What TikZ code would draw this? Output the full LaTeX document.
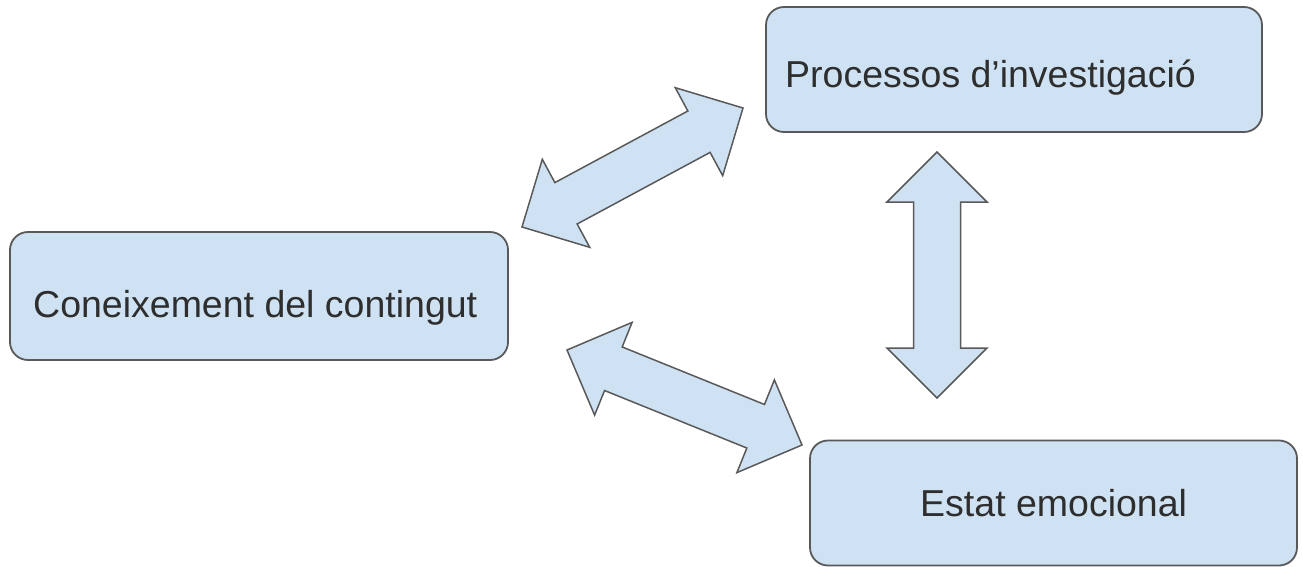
\documentclass[tikz,border=0pt]{standalone}
\usepackage{fontspec}
\setmainfont{Liberation Sans}
\usetikzlibrary{calc}

\definecolor{boxfill}{HTML}{CFE2F3}
\definecolor{boxline}{HTML}{595959}
\definecolor{txtcol}{HTML}{2E2E2E}

\tikzset{
  box/.style={draw=boxline, fill=boxfill, line width=1.8pt, rounded corners=18pt, inner sep=0pt},
  lbl/.style={text=txtcol, font=\fontsize{37.5}{45}\selectfont, inner sep=0pt, anchor=base west},
  blockarrow/.style={draw=boxline, fill=boxfill, line width=1.5pt, line join=miter}
}

% block arrow with a head at both ends
\newcommand{\dblarrow}[2]{%
  \coordinate (ha) at ($(#1)!50pt!(#2)$);
  \coordinate (hb) at ($(#2)!50pt!(#1)$);
  \draw[blockarrow] (#1)
    -- ($(ha)!50pt!90:(#2)$) -- ($(ha)!23.5pt!90:(#2)$)
    -- ($(hb)!23.5pt!-90:(#1)$) -- ($(hb)!50pt!-90:(#1)$)
    -- (#2)
    -- ($(hb)!50pt!90:(#1)$) -- ($(hb)!23.5pt!90:(#1)$)
    -- ($(ha)!23.5pt!-90:(#2)$) -- ($(ha)!50pt!-90:(#2)$)
    -- cycle;}

\begin{document}
\begin{tikzpicture}[x=1pt, y=-1pt]
    \useasboundingbox (0,0) rectangle (1303,567);

    % Boxes
    \node[box, minimum width=498pt, minimum height=128pt] (cont) at (259,296) {};
    \node[box, minimum width=496pt, minimum height=125pt] (proc) at (1014,69.5) {};
    \node[box, minimum width=487pt, minimum height=125pt] (emo) at (1053.5,503) {};

    % Labels
    \node[lbl] (cont-t) at (33,317) {Coneixement del contingut};
    \node[lbl] (proc-t) at (785,88) {Processos d’investigació};
    \node[lbl] (emo-t) at (920,516) {Estat emocional};

    % Arrows
    \coordinate (a1) at (522,227);
    \coordinate (b1) at (743,108);
    \coordinate (a2) at (937,152);
    \coordinate (b2) at (937,398);
    \coordinate (a3) at (567,350);
    \coordinate (b3) at (802,445);
    \dblarrow{a1}{b1}
    \dblarrow{a2}{b2}
    \dblarrow{a3}{b3}
\end{tikzpicture}
\end{document}
